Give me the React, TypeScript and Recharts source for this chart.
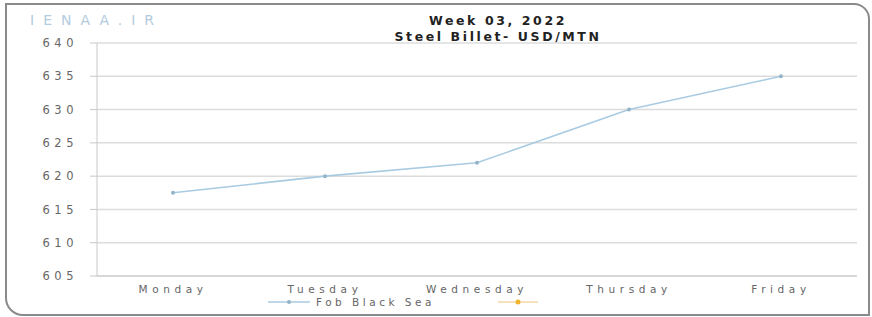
import { LineChart, Line, XAxis, YAxis, CartesianGrid } from "recharts";

const days = ["Monday", "Tuesday", "Wednesday", "Thursday", "Friday"];
const fobBlackSea = [617.5, 620, 622, 630, 635];
const yTicks = [605, 610, 615, 620, 625, 630, 635, 640];

const data = days.map((day, i) => ({ day, fob: fobBlackSea[i] }));

const xTickStyle = {
  fontFamily: "DejaVu Sans",
  fontSize: 10.5,
  letterSpacing: 4.6,
  fill: "#666",
};

const yTickStyle = {
  fontFamily: "DejaVu Sans",
  fontSize: 11.5,
  letterSpacing: 4.5,
  fill: "#666",
  dx: -10,
};

export default function App() {
  return (
    <div
      style={{
        position: "fixed",
        left: 0,
        top: 0,
        width: 872,
        height: 317,
        background: "#fff",
        overflow: "hidden",
      }}
    >
      {/* frame */}
      <div
        style={{
          position: "absolute",
          left: 5,
          top: 3,
          width: 861,
          height: 309,
          border: "2px solid #8a8a8a",
          borderRadius: "0 16px 0 18px",
        }}
      />

      {/* watermark */}
      <div
        style={{
          position: "absolute",
          left: 30,
          top: 12,
          fontFamily: "DejaVu Sans",
          fontSize: 14,
          letterSpacing: 9,
          color: "#b3cbe0",
        }}
      >
        IENAA.IR
      </div>

      {/* title */}
      <div
        style={{
          position: "absolute",
          left: 298,
          width: 400,
          top: 13,
          textAlign: "center",
          fontFamily: "DejaVu Sans",
          fontWeight: "bold",
          fontSize: 12.5,
          lineHeight: "16px",
          letterSpacing: 2.6,
          color: "#222",
        }}
      >
        <div>Week 03, 2022</div>
        <div>Steel Billet- USD/MTN</div>
      </div>

      <div style={{ position: "absolute", left: 0, top: 0 }}>
        <LineChart
          width={872}
          height={317}
          data={data}
          margin={{ top: 43, right: 15, left: 0, bottom: 21 }}
        >
          <CartesianGrid vertical={false} stroke="#dcdcdc" strokeWidth={1.5} />
          <XAxis
            dataKey="day"
            height={20}
            padding={{ left: 76, right: 76 }}
            axisLine={{ stroke: "#c8c8c8" }}
            tickLine={false}
            tick={xTickStyle}
            tickMargin={4}
          />
          <YAxis
            width={97}
            domain={[605, 640]}
            ticks={yTicks}
            axisLine={{ stroke: "#c8c8c8" }}
            tickLine={{ stroke: "#c8c8c8" }}
            tickSize={7}
            tick={yTickStyle}
          />
          <Line
            type="linear"
            dataKey="fob"
            stroke="#a9cbe2"
            strokeWidth={1.6}
            dot={{ r: 2, fill: "#93b3c9", stroke: "none" }}
            isAnimationActive={false}
          />
        </LineChart>
      </div>

      {/* legend */}
      <svg
        style={{ position: "absolute", left: 0, top: 292 }}
        width={872}
        height={20}
      >
        <line x1={268} y1={10} x2={310} y2={10} stroke="#a9cbe2" strokeWidth={1.6} />
        <circle cx={289} cy={10} r={2} fill="#93b3c9" />
        <text
          x={316}
          y={14}
          fontFamily="DejaVu Sans"
          fontSize={10.5}
          letterSpacing={3.5}
          fill="#666"
        >
          Fob Black Sea
        </text>
        <line x1={498} y1={10} x2={538} y2={10} stroke="#f6d9a8" strokeWidth={1.6} />
        <circle cx={518} cy={10} r={2.5} fill="#f0b42a" />
      </svg>
    </div>
  );
}
